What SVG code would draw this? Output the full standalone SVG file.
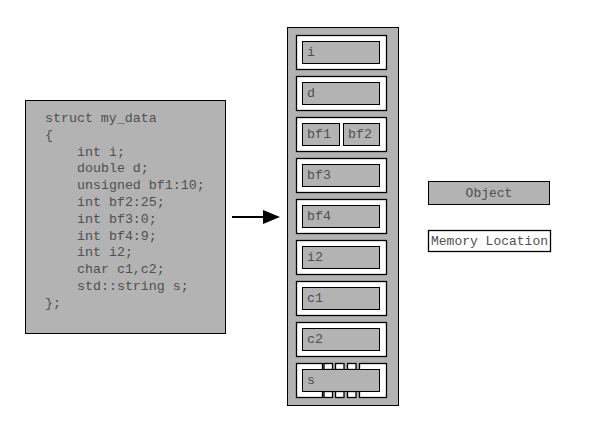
<svg xmlns="http://www.w3.org/2000/svg" width="590" height="428" viewBox="0 0 590 428">
<style>
  .g{fill:#b3b3b3;stroke:#000;stroke-width:1}
  .w{fill:#fff;stroke:#000;stroke-width:1.3}
  .t{font-family:"Liberation Mono","Courier New",monospace;font-size:13.3px;fill:#505050}
</style>
<rect width="590" height="428" fill="#fff"/>
<g id="code">
  <rect class="g" x="25.5" y="100.5" width="200" height="233"/>
  <text class="t" x="45" y="122">struct my_data</text>
  <text class="t" x="45" y="138.8">{</text>
  <text class="t" x="77" y="155.6">int i;</text>
  <text class="t" x="77" y="172.4">double d;</text>
  <text class="t" x="77" y="189.2">unsigned bf1:10;</text>
  <text class="t" x="77" y="206">int bf2:25;</text>
  <text class="t" x="77" y="222.8">int bf3:0;</text>
  <text class="t" x="77" y="239.6">int bf4:9;</text>
  <text class="t" x="77" y="256.4">int i2;</text>
  <text class="t" x="77" y="273.2">char c1,c2;</text>
  <text class="t" x="77" y="290">std::string s;</text>
  <text class="t" x="45" y="306.8">};</text>
</g>
<g id="connectors">
  <line x1="232" y1="217" x2="265" y2="217" stroke="#000" stroke-width="2"/>
  <polygon points="263,210 280,217 263,224" fill="#000"/>
</g>
<g id="memory">
  <rect class="g" x="287.5" y="27.5" width="111" height="378"/>
  <g id="mem-i">
    <rect class="w" x="296.5" y="35.5" width="90" height="34"/>
    <rect class="g" x="302.5" y="41.5" width="77" height="22"/>
    <text class="t" x="307" y="56">i</text>
  </g>
  <g id="mem-d">
    <rect class="w" x="296.5" y="76.5" width="90" height="34"/>
    <rect class="g" x="302.5" y="82.5" width="77" height="22"/>
    <text class="t" x="307" y="97">d</text>
  </g>
  <g id="mem-bf12">
    <rect class="w" x="296.5" y="117.5" width="90" height="34"/>
    <rect class="g" x="302.5" y="123.5" width="37" height="22"/>
    <rect class="g" x="343.5" y="123.5" width="36" height="22"/>
    <text class="t" x="307" y="138">bf1</text>
    <text class="t" x="348" y="138">bf2</text>
  </g>
  <g id="mem-bf3">
    <rect class="w" x="296.5" y="158.5" width="90" height="34"/>
    <rect class="g" x="302.5" y="164.5" width="77" height="22"/>
    <text class="t" x="307" y="179">bf3</text>
  </g>
  <g id="mem-bf4">
    <rect class="w" x="296.5" y="199.5" width="90" height="34"/>
    <rect class="g" x="302.5" y="205.5" width="77" height="22"/>
    <text class="t" x="307" y="220">bf4</text>
  </g>
  <g id="mem-i2">
    <rect class="w" x="296.5" y="240.5" width="90" height="34"/>
    <rect class="g" x="302.5" y="246.5" width="77" height="22"/>
    <text class="t" x="307" y="261">i2</text>
  </g>
  <g id="mem-c1">
    <rect class="w" x="296.5" y="281.5" width="90" height="34"/>
    <rect class="g" x="302.5" y="287.5" width="77" height="22"/>
    <text class="t" x="307" y="302">c1</text>
  </g>
  <g id="mem-c2">
    <rect class="w" x="296.5" y="322.5" width="90" height="34"/>
    <rect class="g" x="302.5" y="328.5" width="77" height="22"/>
    <text class="t" x="307" y="343">c2</text>
  </g>
  <g id="mem-s">
    <rect class="w" x="296.5" y="363.5" width="90" height="34"/>
    <rect x="322.5" y="362" width="37" height="7.5" fill="#b3b3b3"/>
    <rect x="322.5" y="391.5" width="37" height="7.5" fill="#b3b3b3"/>
    <path d="M322.5 363V369.5M359.5 363V369.5M322.5 391.5V398M359.5 391.5V398" stroke="#000" stroke-width="1.3" fill="none"/>
    <rect class="w" x="324" y="363.5" width="8.5" height="6"/>
    <rect class="w" x="335.5" y="363.5" width="8.5" height="6"/>
    <rect class="w" x="347.5" y="363.5" width="8.5" height="6"/>
    <rect class="w" x="324" y="391.5" width="8.5" height="6"/>
    <rect class="w" x="335.5" y="391.5" width="8.5" height="6"/>
    <rect class="w" x="347.5" y="391.5" width="8.5" height="6"/>
    <rect class="g" x="302.5" y="369.5" width="77" height="22"/>
    <text class="t" x="307" y="384">s</text>
  </g>
</g>
<g id="legend-object">
  <rect class="g" x="428.5" y="181.5" width="121" height="23"/>
  <text class="t" x="489" y="197" text-anchor="middle" style="font-size:13px">Object</text>
</g>
<g id="legend-memory">
  <rect class="w" x="428.5" y="230.5" width="122" height="21" stroke-width="1"/>
  <text class="t" x="431" y="245" style="font-size:13px">Memory Location</text>
</g>
</svg>
